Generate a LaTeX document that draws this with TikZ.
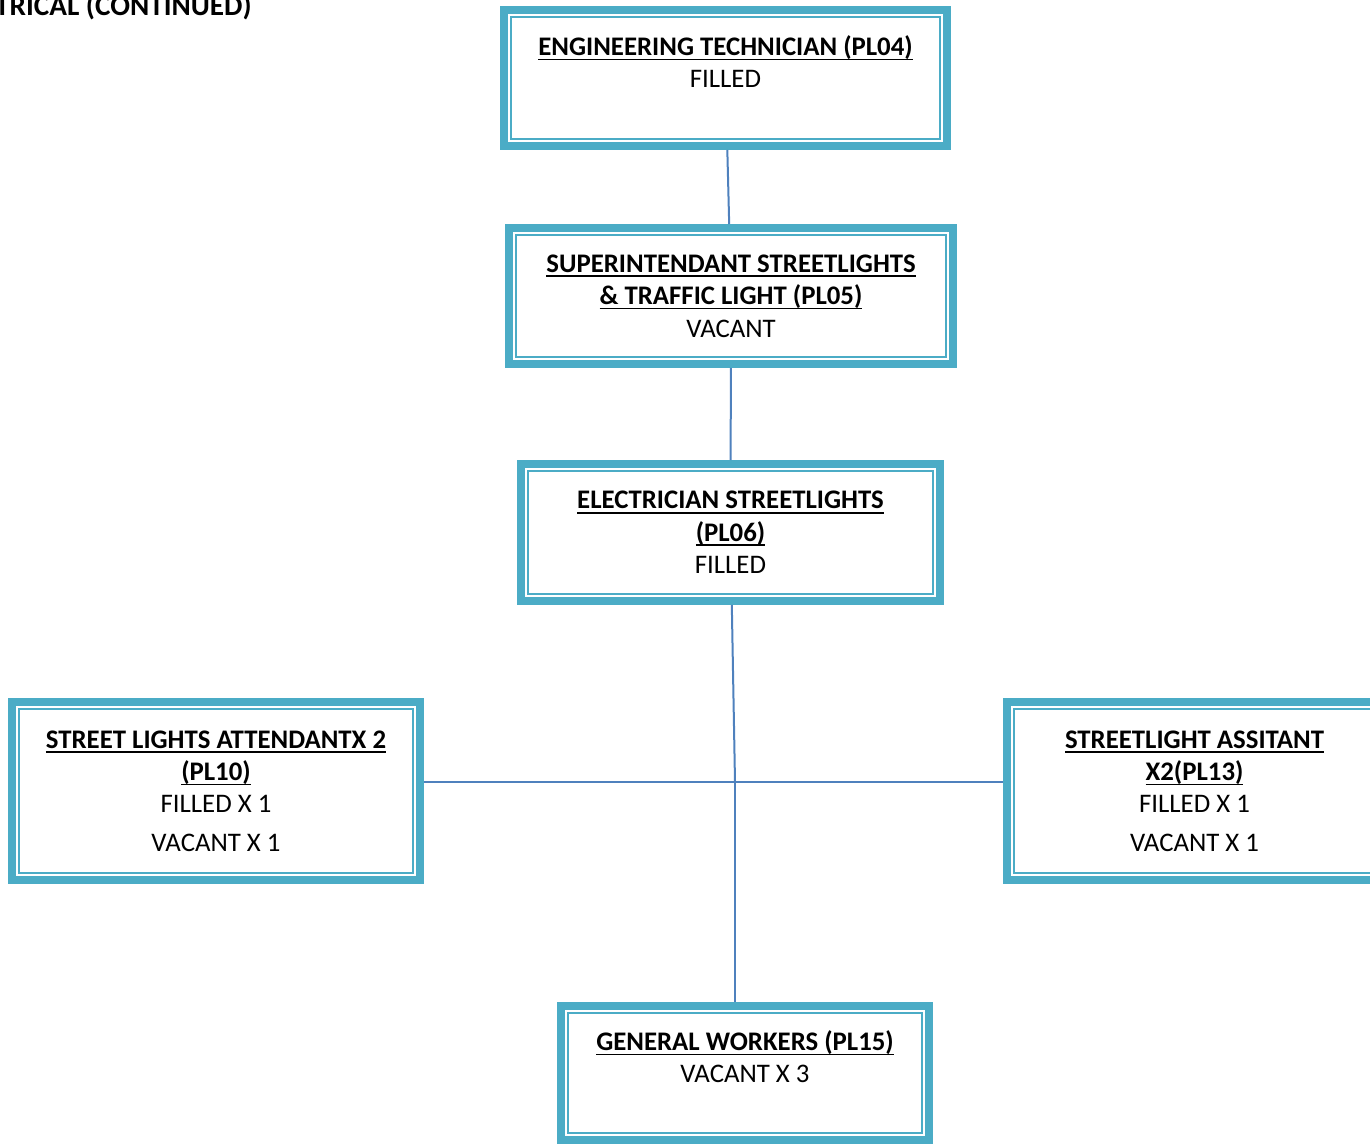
\documentclass[tikz,border=0pt]{standalone}
\usepackage{fontspec}
\setmainfont{Carlito}
\usepackage{tikz}

\definecolor{boxblue}{HTML}{4BACC6}
\definecolor{lineblue}{HTML}{4F81BD}
\newsavebox{\headbox}
\newcommand{\head}[1]{\sbox{\headbox}{\bfseries #1}\rlap{\rule[-2.4pt]{\wd\headbox}{0.9pt}}\usebox{\headbox}}
\tikzset{
	post/.style={draw=boxblue, line width=4pt, align=center, inner sep=0pt,
		font=\fontsize{13.4}{16.2}\selectfont,
		path picture={\draw[boxblue, line width=1pt]
			([shift={(3.65pt,-3.65pt)}]path picture bounding box.north west) rectangle
			([shift={(-3.65pt,3.65pt)}]path picture bounding box.south east);}},
	link/.style={draw=lineblue, line width=1pt}
}

\begin{document}
\begin{tikzpicture}[x=0.5pt, y=-0.5pt]
\useasboundingbox (0,0) rectangle (1370,1144);
\clip (0,0) rectangle (1370,1144);
\node[anchor=base east, inner sep=0pt, font=\fontsize{14.6}{17}\selectfont\bfseries] (heading) at (252,16) {TRICAL (CONTINUED)};
\node[post, minimum width=221.5pt, minimum height=68pt] (eng) at (725.5,78)
	{\head{ENGINEERING TECHNICIAN (PL04)}\\FILLED\\~};
\node[post, minimum width=222pt, minimum height=68pt] (supt) at (731,296)
	{\head{SUPERINTENDANT STREETLIGHTS}\\\head{\& TRAFFIC LIGHT (PL05)}\\VACANT};
\node[post, minimum width=209.5pt, minimum height=68.5pt] (elec) at (730.5,532.5)
	{\head{ELECTRICIAN STREETLIGHTS}\\\head{(PL06)}\\FILLED};
\node[post, minimum width=204pt, minimum height=89pt] (attend) at (216,791)
	{\head{STREET LIGHTS ATTENDANTX 2}\\\head{(PL10)}\\FILLED X 1\\[3pt]VACANT X 1};
\node[post, minimum width=187.5pt, minimum height=89pt] (assist) at (1194.5,791)
	{\head{STREETLIGHT ASSITANT}\\\head{X2(PL13)}\\FILLED X 1\\[3pt]VACANT X 1};
\node[post, minimum width=184pt, minimum height=67pt] (crew) at (745,1073)
	{\head{GENERAL WORKERS (PL15)}\\VACANT X 3\\~};
\coordinate (hub) at (735,782);
\path[link]
(eng) edge (supt)
(supt) edge (elec)
(elec) edge (hub)
(hub) edge (hub |- crew.north)
(attend.east |- hub) edge (assist.west |- hub)
;
\end{tikzpicture}
\end{document}
